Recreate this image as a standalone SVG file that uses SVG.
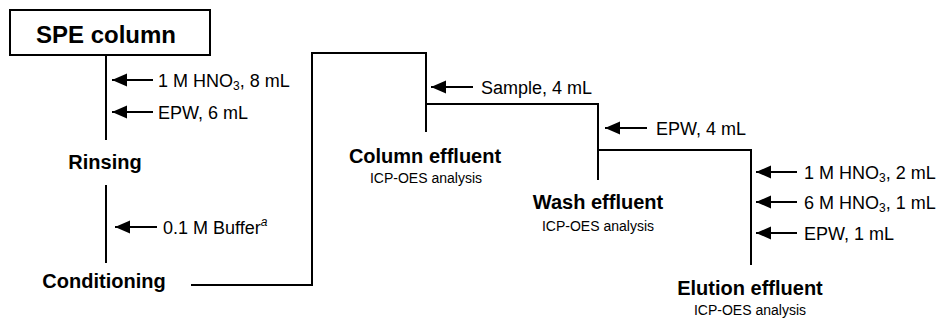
<svg xmlns="http://www.w3.org/2000/svg" width="948" height="322" viewBox="0 0 948 322">
<style>
.ln{fill:none;stroke:#000;stroke-width:2}
.ar{fill:none;stroke:#000;stroke-width:2;marker-end:url(#ah)}
.t{font-family:"Liberation Sans",Arial,sans-serif;font-size:18px;fill:#000}
.b{font-family:"Liberation Sans",Arial,sans-serif;font-size:20px;font-weight:bold;fill:#000;text-anchor:middle}
.s{font-family:"Liberation Sans",Arial,sans-serif;font-size:14px;fill:#000;text-anchor:middle}
.sub{font-size:12px}
</style>
<defs>
<marker id="ah" markerUnits="userSpaceOnUse" markerWidth="16" markerHeight="14" refX="15" refY="7" orient="auto">
<path d="M0,0.5 L15,7 L0,13.5 z" fill="#000"/>
</marker>
</defs>
<rect width="948" height="322" fill="#fff"/>
<g id="connectors">
<line class="ln" x1="106" y1="55" x2="106" y2="140"/>
<line class="ln" x1="106" y1="185" x2="106" y2="263"/>
<path class="ln" d="M191,285 H312 V53 H426 V132"/>
<path class="ln" d="M426,104 H598 V180"/>
<path class="ln" d="M598,150 H751 V265"/>
<line class="ar" x1="153" y1="80" x2="112" y2="80"/>
<line class="ar" x1="153" y1="112" x2="112" y2="112"/>
<line class="ar" x1="157" y1="227" x2="115" y2="227"/>
<line class="ar" x1="473" y1="87" x2="431" y2="87"/>
<line class="ar" x1="647" y1="128" x2="605" y2="128"/>
<line class="ar" x1="797" y1="172" x2="756" y2="172"/>
<line class="ar" x1="797" y1="202" x2="756" y2="202"/>
<line class="ar" x1="797" y1="233" x2="756" y2="233"/>
</g>
<g id="spe-column">
<rect x="10" y="10" width="200" height="45" fill="#fff" stroke="#000" stroke-width="2"/>
<text class="b" x="106" y="43" style="font-size:24px">SPE column</text>
</g>
<g id="rinsing-inputs">
<text class="t" x="158" y="86.5">1 M HNO<tspan class="sub" dy="3">3</tspan><tspan dy="-3">, 8 mL</tspan></text>
<text class="t" x="158" y="118.5">EPW, 6 mL</text>
</g>
<g id="rinsing"><text class="b" x="105" y="169">Rinsing</text></g>
<g id="buffer-input">
<text class="t" x="163" y="233.5">0.1 M Buffer<tspan style="font-size:12px;font-style:italic" dy="-8">a</tspan></text>
</g>
<g id="conditioning"><text class="b" x="104" y="288">Conditioning</text></g>
<g id="sample-input"><text class="t" x="481" y="93.5">Sample, 4 mL</text></g>
<g id="column-effluent">
<text class="b" x="425" y="163">Column effluent</text>
<text class="s" x="426" y="183">ICP-OES analysis</text>
</g>
<g id="wash-input"><text class="t" x="656" y="134.5">EPW, 4 mL</text></g>
<g id="wash-effluent">
<text class="b" x="598" y="209">Wash effluent</text>
<text class="s" x="598" y="231">ICP-OES analysis</text>
</g>
<g id="elution-inputs">
<text class="t" x="804" y="178.5">1 M HNO<tspan class="sub" dy="3">3</tspan><tspan dy="-3">, 2 mL</tspan></text>
<text class="t" x="804" y="208.5">6 M HNO<tspan class="sub" dy="3">3</tspan><tspan dy="-3">, 1 mL</tspan></text>
<text class="t" x="804" y="239.5">EPW, 1 mL</text>
</g>
<g id="elution-effluent">
<text class="b" x="750" y="295">Elution effluent</text>
<text class="s" x="750" y="315">ICP-OES analysis</text>
</g>
</svg>
